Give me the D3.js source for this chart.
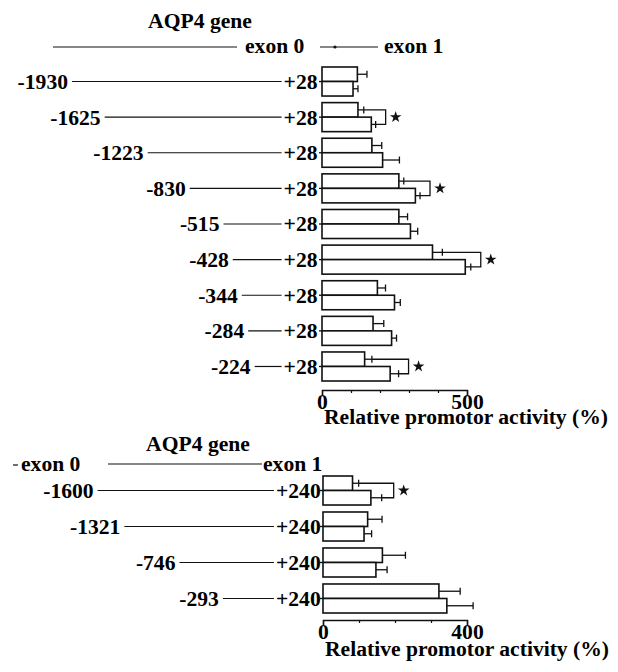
<!DOCTYPE html>
<html><head><meta charset="utf-8">
<script src="https://cdn.jsdelivr.net/npm/d3@7"></script>
<style>
html,body{margin:0;padding:0;background:#fff;}
svg{display:block;}
svg text{font-family:'Liberation Serif','DejaVu Serif','Times New Roman',Times,serif !important;font-weight:700;font-size:21.6px;fill:#000;}
</style></head><body>
<svg id="chart" width="618" height="672" font-family="Liberation Serif, DejaVu Serif, serif"></svg>
<script>
// ---------- DATA ----------
// Upper panel: AQP4 promoter constructs (start ... +28)
const topLabels   = ["-1930","-1625","-1223","-830","-515","-428","-344","-284","-224"];
const topStarts   = [-1930, -1625, -1223, -830, -515, -428, -344, -284, -224];
const topEnd      = 28;
const topEndLabel = "+28";
const topSeriesA  = [122, 124, 172, 265, 265, 381, 191, 176, 147];
const topErrA     = [33, 20, 34, 17, 30, 34, 28, 37, 25];
const topSeriesB  = [107, 170, 209, 322, 305, 494, 250, 240, 235];
const topErrB     = [17, 15, 58, 16, 25, 19, 20, 17, 29];
const topSig      = [false, true, false, true, false, true, false, false, true];
const topTickLabels = [0, 500];
const topMax      = 500;

// Lower panel: AQP4 promoter constructs (start ... +240)
const botLabels   = ["-1600","-1321","-746","-293"];
const botStarts   = [-1600, -1321, -746, -293];
const botEnd      = 240;
const botEndLabel = "+240";
const botSeriesA  = [82, 124, 165, 322];
const botErrA     = [17, 40, 64, 59];
const botSeriesB  = [133, 114, 147, 344];
const botErrB     = [30, 21, 31, 73];
const botSig      = [true, false, false, false];
const botTickLabels = [0, 400];
const botMax      = 400;

const geneTitle  = "AQP4 gene";
const exon0      = "exon 0";
const exon1      = "exon 1";
const axisTitle  = "Relative promotor activity (%)";
const seriesKeys = ["A", "B"];

// ---------- DRAW ----------
const svg = d3.select("#chart");
const INK = "#111";

function panel(cfg) {
  const g = svg.append("g");
  const x = d3.scaleLinear().domain([0, cfg.max]).range([cfg.x0, cfg.x1]);
  const y = d3.scaleBand().domain(cfg.labels).range([cfg.yTop, cfg.yBottom]).paddingInner(cfg.pad).paddingOuter(0);
  const sub = d3.scaleBand().domain(seriesKeys).range([0, y.bandwidth()]);
  const gs = d3.scaleLinear().domain(cfg.gDomain).range(cfg.gRange);

  const rows = cfg.labels.map((lab, i) => ({
    lab, start: cfg.starts[i],
    vals: [{k:"A", v: cfg.a[i], e: cfg.ea[i]}, {k:"B", v: cfg.b[i], e: cfg.eb[i]}],
    sig: cfg.sig[i]
  }));

  const row = g.selectAll("g.row").data(rows).join("g").attr("class","row")
    .attr("transform", d => `translate(0,${y(d.lab)})`);
  const mid = y.bandwidth() / 2;

  // construct schematic
  row.append("text").attr("x", d => gs(d.start) - 4).attr("y", mid + 7.5)
    .attr("text-anchor","end").text(d => d.lab);
  row.append("line").attr("x1", d => gs(d.start)).attr("x2", gs(cfg.end))
    .attr("y1", mid).attr("y2", mid).attr("stroke", INK).attr("stroke-width", 1.2);
  row.append("text").attr("x", gs(cfg.end) + 2).attr("y", mid + 7.5)
    .attr("text-anchor","start").text(cfg.endLabel);

  // small nub at left
  row.append("line").attr("x1", x(0) - 3).attr("x2", x(0)).attr("y1", mid).attr("y2", mid)
    .attr("stroke", INK).attr("stroke-width", 1.3);

  // bars
  const bar = row.selectAll("g.bar").data(d => d.vals).join("g").attr("class","bar")
    .attr("transform", d => `translate(0,${sub(d.k)})`);
  bar.append("rect").attr("x", x(0)).attr("y", 0)
    .attr("width", d => x(d.v) - x(0)).attr("height", sub.bandwidth())
    .attr("fill", "#fff").attr("stroke", INK).attr("stroke-width", 1.6);
  const bm = sub.bandwidth() / 2;
  bar.append("line").attr("x1", d => x(d.v)).attr("x2", d => x(d.v + d.e))
    .attr("y1", bm).attr("y2", bm).attr("stroke", INK).attr("stroke-width", 1.3);
  bar.append("line").attr("x1", d => x(d.v + d.e)).attr("x2", d => x(d.v + d.e))
    .attr("y1", bm - 3.5).attr("y2", bm + 3.5).attr("stroke", INK).attr("stroke-width", 1.3);

  // significance brackets
  const sigRows = row.filter(d => d.sig);
  sigRows.append("path").attr("fill","none").attr("stroke", INK).attr("stroke-width", 1.3)
    .attr("d", d => {
      const [a, b] = d.vals;
      const bx = x(Math.max(a.v + a.e, b.v + b.e)) + cfg.bracketGap;
      const ya = sub("A") + bm, yb = sub("B") + bm;
      return `M${x(a.v + a.e)},${ya}H${bx}V${yb}H${x(b.v + b.e)}`;
    });
  sigRows.append("path")
    .attr("d", d3.symbol(d3.symbolStar, 42))
    .attr("fill", INK)
    .attr("transform", d => {
      const [a, b] = d.vals;
      const bx = x(Math.max(a.v + a.e, b.v + b.e)) + cfg.bracketGap;
      return `translate(${bx + 10},${mid})`;
    });

  // axis
  const ax = g.append("g").attr("transform", `translate(0,${cfg.axisY})`)
    .call(d3.axisBottom(x).tickValues(d3.range(0, cfg.max + 1, 100))
      .tickSize(3).tickSizeOuter(5)
      .tickFormat(d => cfg.tickLabels.includes(d) ? d : ""));
  ax.attr("font-family", null).attr("font-size", null);
  ax.select(".domain").attr("stroke", INK).attr("stroke-width", 1.5);
  ax.selectAll(".tick line").attr("stroke", INK).attr("stroke-width", 1.2);
  ax.selectAll(".tick").filter(d => cfg.tickLabels.includes(d)).select("line").attr("y2", 5);
  ax.selectAll(".tick text").attr("y", 19).attr("dy", 0);
  g.append("text").attr("x", x(0) + 2).attr("y", cfg.axisY + cfg.titleDy).text(axisTitle);
  return g;
}

// ---- upper panel ----
svg.append("text").attr("x", 200).attr("y", 28).attr("text-anchor","middle").text(geneTitle);
svg.append("line").attr("x1", 53).attr("x2", 237).attr("y1", 47).attr("y2", 47).attr("stroke", INK).attr("stroke-width", 1.2);
svg.append("text").attr("x", 245).attr("y", 53).text(exon0);
svg.append("line").attr("x1", 320).attr("x2", 378).attr("y1", 47).attr("y2", 47).attr("stroke", INK).attr("stroke-width", 1.2);
svg.append("circle").attr("cx", 335).attr("cy", 47).attr("r", 1.6).attr("fill", INK);
svg.append("text").attr("x", 384).attr("y", 53).text(exon1);

panel({
  labels: topLabels, starts: topStarts, end: topEnd, endLabel: topEndLabel,
  a: topSeriesA, ea: topErrA, b: topSeriesB, eb: topErrB, sig: topSig,
  max: topMax, tickLabels: topTickLabels,
  x0: 322, x1: 467, yTop: 67, yBottom: 381, pad: 0.185, axisY: 390, titleDy: 34,
  gDomain: [-1930, 28], gRange: [72, 281.6], bracketGap: 10
});

// ---- lower panel ----
svg.append("text").attr("x", 198).attr("y", 451).attr("text-anchor","middle").text(geneTitle);
svg.append("line").attr("x1", 13).attr("x2", 18).attr("y1", 465).attr("y2", 465).attr("stroke", INK).attr("stroke-width", 1.2);
svg.append("text").attr("x", 21).attr("y", 471).text(exon0);
svg.append("line").attr("x1", 108).attr("x2", 262).attr("y1", 464).attr("y2", 464).attr("stroke", INK).attr("stroke-width", 1.2);
svg.append("text").attr("x", 263).attr("y", 471).text(exon1);

panel({
  labels: botLabels, starts: botStarts, end: botEnd, endLabel: botEndLabel,
  a: botSeriesA, ea: botErrA, b: botSeriesB, eb: botErrB, sig: botSig,
  max: botMax, tickLabels: botTickLabels,
  x0: 323, x1: 467, yTop: 476, yBottom: 613, pad: 0.194, axisY: 620, titleDy: 36,
  gDomain: [-1600, 240], gRange: [97.6, 274], bracketGap: 12
});
</script>
</body></html>
